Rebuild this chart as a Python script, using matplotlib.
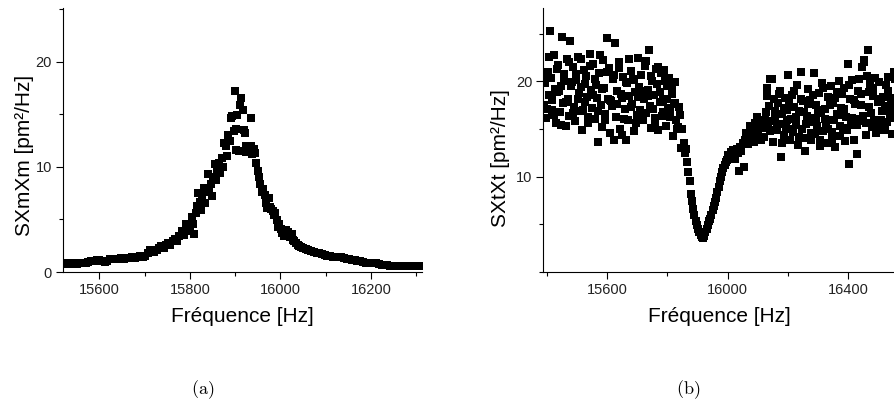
import numpy as np
import matplotlib
matplotlib.use('Agg')
from matplotlib import pyplot as plt
from matplotlib.ticker import MultipleLocator

plt.rcParams['font.family'] = ['Liberation Sans', 'DejaVu Sans']
plt.rcParams['mathtext.fontset'] = 'cm'

# (a) spectre Sxmxm
freq_a = [15522, 15528, 15534, 15540, 15546, 15552, 15558, 15564, 15570, 15576,
          15582, 15588, 15594, 15600, 15606, 15612, 15618, 15624, 15630, 15636,
          15642, 15648, 15654, 15660, 15666, 15672, 15678, 15684, 15690, 15696,
          15702, 15707, 15712, 15717, 15722, 15727, 15732, 15737, 15742, 15747,
          15752, 15757, 15762, 15767, 15772, 15777, 15782, 15787, 15792, 15797,
          15801, 15804, 15807, 15810, 15813, 15816, 15819, 15822, 15825, 15828,
          15831, 15834, 15837, 15840, 15843, 15846, 15849, 15852, 15855, 15858,
          15861, 15864, 15867, 15870, 15873, 15876, 15879, 15882, 15885, 15888,
          15891, 15894, 15897, 15899, 15901, 15903, 15905, 15908, 15911, 15914,
          15917, 15919, 15921, 15923, 15925, 15928, 15931, 15934, 15936, 15938,
          15941, 15944, 15947, 15950, 15953, 15956, 15959, 15962, 15965, 15968,
          15971, 15974, 15977, 15980, 15983, 15986, 15989, 15992, 15995, 15998,
          16001, 16004, 16007, 16010, 16013, 16016, 16019, 16022, 16025, 16028,
          16031, 16034, 16038, 16042, 16046, 16050, 16056, 16062, 16068, 16074,
          16080, 16086, 16092, 16098, 16104, 16110, 16116, 16122, 16128, 16134,
          16140, 16146, 16152, 16158, 16164, 16170, 16176, 16182, 16188, 16194,
          16200, 16206, 16212, 16218, 16224, 16230, 16236, 16242, 16248, 16254,
          16260, 16266, 16272, 16278, 16284, 16290, 16296, 16302, 16308]
s_xm = [0.80, 0.85, 0.78, 0.82, 0.75, 0.80, 0.86, 0.82, 0.90, 0.95,
        1.00, 1.08, 1.15, 1.10, 1.02, 0.95, 1.05, 1.25, 1.20, 1.28,
        1.22, 1.30, 1.25, 1.35, 1.30, 1.38, 1.35, 1.42, 1.48, 1.45,
        1.55, 1.85, 2.05, 1.95, 1.90, 2.10, 2.30, 2.45, 2.25, 2.60,
        2.75, 2.55, 2.90, 3.10, 2.95, 3.40, 3.90, 3.55, 4.60, 3.90,
        4.30, 5.20, 4.60, 3.60, 5.60, 6.30, 7.50, 6.70, 5.90, 7.20,
        8.00, 6.60, 7.60, 9.30, 7.90, 8.40, 7.20, 9.00, 10.3, 8.70,
        9.60, 10.4, 9.40, 10.8, 10.0, 12.3, 12.0, 11.0, 13.0, 12.5,
        14.6, 14.8, 13.4, 17.2, 11.6, 13.6, 14.9, 11.5, 15.9, 16.5,
        15.4, 13.5, 13.2, 12.0, 11.4, 11.8, 11.6, 12.0, 14.6, 11.2,
        11.7, 11.3, 10.4, 9.6, 9.0, 8.4, 7.6, 7.9, 7.3, 6.6,
        6.1, 7.0, 6.2, 6.0, 5.8, 5.4, 5.6, 4.9, 4.3, 4.6,
        4.1, 3.7, 3.4, 3.9, 4.0, 3.8, 3.6, 3.3, 3.6, 3.0,
        2.9, 2.8, 2.6, 2.5, 2.35, 2.3, 2.2, 2.1, 1.95, 1.9,
        1.85, 1.80, 1.70, 1.60, 1.55, 1.50, 1.45, 1.42, 1.40, 1.38,
        1.30, 1.25, 1.20, 1.15, 1.10, 1.05, 1.00, 0.95, 0.90, 0.88,
        0.85, 0.90, 0.82, 0.75, 0.70, 0.68, 0.65, 0.60, 0.58, 0.56,
        0.58, 0.55, 0.57, 0.55, 0.56, 0.54, 0.55, 0.56, 0.55]

# (b) spectre Sxtxt
freq_b = [15390, 15394, 15398, 15402, 15406, 15410, 15414, 15418, 15422, 15426,
          15430, 15434, 15438, 15442, 15446, 15450, 15454, 15458, 15462, 15466,
          15470, 15474, 15478, 15482, 15486, 15490, 15494, 15498, 15502, 15506,
          15510, 15514, 15518, 15522, 15526, 15530, 15534, 15538, 15542, 15546,
          15550, 15554, 15558, 15562, 15566, 15570, 15574, 15578, 15582, 15586,
          15590, 15594, 15598, 15602, 15606, 15610, 15614, 15618, 15622, 15626,
          15630, 15634, 15638, 15642, 15646, 15650, 15654, 15658, 15662, 15666,
          15670, 15674, 15678, 15682, 15686, 15690, 15694, 15698, 15702, 15706,
          15710, 15714, 15718, 15722, 15726, 15730, 15734, 15738, 15742, 15746,
          15750, 15754, 15758, 15762, 15766, 15770, 15774, 15778, 15782, 15786,
          15790, 15794, 15798, 15802, 15806, 15810, 15814, 15818, 15822, 15826,
          15830, 15834, 15838,
          15842, 15846, 15850, 15854, 15858, 15862, 15866, 15870, 15874, 15878,
          15882, 15886, 15890, 15894, 15898, 15902, 15906, 15910, 15914, 15918,
          15922, 15926, 15930, 15934, 15938, 15942, 15946, 15950, 15954, 15958,
          15962, 15966, 15970, 15974, 15978, 15982, 15986, 15990, 15994, 15998,
          16002, 16006, 16010, 16014, 16018, 16022, 16026, 16030, 16034, 16038,
          16042, 16046, 16050, 16054, 16058, 16062, 16066, 16070, 16074, 16078,
          16082, 16086, 16090, 16094, 16098, 16102, 16106, 16110, 16114, 16118,
          16122, 16126, 16130, 16134, 16138, 16142, 16146, 16150, 16154, 16158,
          16162, 16166, 16170, 16174, 16178, 16182, 16186, 16190, 16194, 16198,
          16202, 16206, 16210, 16214, 16218, 16222, 16226, 16230, 16234, 16238,
          16242, 16246, 16250, 16254, 16258, 16262, 16266, 16270, 16274, 16278,
          16282, 16286, 16290, 16294, 16298, 16302, 16306, 16310, 16314, 16318,
          16322, 16326, 16330, 16334, 16338, 16342, 16346, 16350, 16354, 16358,
          16362, 16366, 16370, 16374, 16378, 16382, 16386, 16390, 16394, 16398,
          16402, 16406, 16410, 16414, 16418, 16422, 16426, 16430, 16434, 16438,
          16442, 16446, 16450, 16454, 16458, 16462, 16466, 16470, 16474, 16478,
          16482, 16486, 16490, 16494, 16498, 16502, 16506, 16510, 16514, 16518,
          16522, 16526, 16530, 16534, 16538, 16542, 16546, 16550, 16554, 16558]
s_xt = [17.5, 19.8, 16.2, 21.0, 18.6, 25.3, 20.4, 17.0, 22.8, 19.2,
        15.6, 18.9, 21.7, 16.8, 19.5, 24.7, 17.7, 20.8, 15.3, 22.3,
        18.2, 16.4, 24.2, 19.9, 21.5, 17.3, 15.8, 20.1, 22.6, 18.8,
        16.9, 19.4, 14.9, 21.2, 17.8, 20.6, 18.4, 15.6, 22.9, 19.1,
        17.2, 21.8, 16.1, 19.6, 18.3, 13.6, 20.9, 17.5, 15.2, 22.2,
        19.3, 16.6, 24.5, 18.1, 21.4, 14.6, 17.9, 20.3, 13.8, 24.0,
        16.3, 19.0, 22.0, 15.0, 18.7, 14.4, 20.5, 17.1, 13.9, 19.8,
        16.0, 18.5, 21.1, 17.6, 20.2, 14.8, 18.9, 16.5, 22.5, 19.4,
        17.0, 20.7, 15.9, 18.2, 21.6, 16.7, 19.1, 23.3, 17.4, 15.1,
        20.0, 18.6, 16.2, 21.3, 19.7, 14.9, 17.8, 20.9, 16.4, 18.0,
        21.2, 15.3, 19.5, 17.2, 20.4, 16.8, 18.7, 14.3, 17.6, 19.9,
        16.0, 15.2, 17.3,
        16.5, 13.0, 15.0, 13.5, 12.5, 12.9, 11.5, 10.5, 9.5, 8.2,
        7.4, 6.6, 6.0, 5.4, 4.9, 4.5, 4.2, 3.9, 3.7, 3.6,
        3.8, 4.2, 4.5, 4.9, 5.3, 5.6, 6.0, 6.5, 6.9, 7.3,
        7.8, 8.4, 8.9, 9.5, 10.0, 10.5, 10.9, 11.2, 11.5, 11.8,
        12.3, 12.0, 12.6, 12.2, 12.8, 12.4, 11.9, 12.9, 12.5, 10.6,
        13.1, 12.7, 13.5, 11.0, 13.9, 14.6, 13.4, 14.2, 15.3, 14.0,
        14.8, 13.6, 15.6, 14.4, 16.3, 14.9, 15.1, 13.9, 15.7, 16.0,
        14.2, 16.8, 19.3, 15.1, 17.4, 20.2, 15.8, 13.6, 18.1, 16.3,
        14.9, 17.7, 15.5, 19.0, 12.1, 16.6, 14.4, 18.3, 15.2, 17.0,
        20.7, 13.9, 16.1, 18.6, 14.7, 17.3, 15.4, 19.6, 13.3, 16.9,
        21.0, 15.0, 17.9, 14.1, 12.7, 16.4, 19.2, 15.7, 18.0, 13.8,
        16.2, 20.9, 14.5, 17.5, 15.3, 18.8, 13.2, 16.7, 19.8, 14.8,
        17.1, 15.6, 13.5, 18.4, 16.0, 19.5, 14.0, 17.7, 15.9, 13.1,
        18.9, 16.5, 20.0, 14.3, 17.2, 15.1, 19.3, 13.7, 16.3, 21.8,
        11.3, 18.2, 15.4, 20.1, 13.9, 17.6, 16.1, 12.4, 19.0, 15.8,
        18.7, 21.5, 16.4, 22.2, 14.4, 20.6, 23.3, 17.3, 19.7, 15.2,
        18.5, 16.0, 20.4, 14.6, 17.8, 19.9, 15.5, 18.1, 16.9, 14.9,
        17.4, 19.6, 15.7, 20.5, 16.2, 18.3, 14.5, 17.0, 21.0, 16.6]

# (b) points supplementaires dans les zones bruitees
freq_b2 = [15392, 15400, 15408, 15416, 15424, 15432, 15440, 15448, 15456, 15464,
           15472, 15480, 15488, 15496, 15504, 15512, 15520, 15528, 15536, 15544,
           15552, 15560, 15568, 15576, 15584, 15592, 15600, 15608, 15616, 15624,
           15632, 15640, 15648, 15656, 15664, 15672, 15680, 15688, 15696, 15704,
           15712, 15720, 15728, 15736, 15744, 15752, 15760, 15768, 15776, 15784,
           15792, 15800, 15808, 15816, 15824, 15832,
           16124, 16132, 16140, 16148, 16156, 16164, 16172, 16180, 16188, 16196,
           16204, 16212, 16220, 16228, 16236, 16244, 16252, 16260, 16268, 16276,
           16284, 16292, 16300, 16308, 16316, 16324, 16332, 16340, 16348, 16356,
           16364, 16372, 16380, 16388, 16396, 16404, 16412, 16420, 16428, 16436,
           16444, 16452, 16460, 16468, 16476, 16484, 16492, 16500, 16508, 16516,
           16524, 16532, 16540, 16548, 16556]
s_xt2 = [20.3, 17.1, 22.6, 18.0, 16.5, 21.3, 19.0, 15.4, 20.0, 17.8,
         22.0, 19.5, 16.7, 20.8, 18.2, 22.4, 17.0, 19.7, 16.3, 21.6,
         18.6, 20.2, 16.9, 22.8, 19.2, 15.9, 21.0, 18.0, 17.4, 20.7,
         17.6, 21.4, 18.3, 16.1, 19.9, 22.4, 17.3, 20.1, 15.6, 18.4,
         19.0, 16.3, 22.1, 18.5, 20.6, 17.1, 15.5, 21.5, 18.9, 16.8,
         20.0, 18.2, 16.3, 19.4, 17.7, 15.0,
         16.0, 18.5, 14.8, 20.3, 16.9, 15.1, 18.7, 13.5, 17.2, 15.9,
         17.8, 15.0, 19.0, 16.3, 14.2, 18.1, 16.8, 15.5, 17.6, 14.6,
         18.6, 15.8, 17.0, 13.9, 19.3, 16.1, 15.0, 17.5, 14.7, 18.3,
         16.6, 15.3, 18.7, 17.1, 14.9, 19.6, 16.2, 18.0, 15.4, 20.3,
         17.5, 22.0, 15.6, 18.9, 16.7, 19.3, 14.8, 17.9, 16.0, 18.4,
         15.2, 19.0, 16.8, 17.7, 20.2]

W, H = 894, 403
fig = plt.figure(figsize=(W / 100, H / 100), dpi=100)

ax1 = fig.add_axes([63 / W, 1 - 272 / H, 358.7 / W, 264 / H])
ax2 = fig.add_axes([543.3 / W, 1 - 272 / H, 353 / W, 264 / H])


def style(ax):
    ax.spines['top'].set_visible(False)
    ax.spines['right'].set_visible(False)
    ax.tick_params(which='major', direction='out', length=5, width=0.8,
                   labelsize=10.5, pad=3, labelcolor='#222222')
    ax.tick_params(which='minor', direction='out', length=3, width=0.8)
    ax.set_xlabel('Fréquence [Hz]', fontsize=15, labelpad=7)


ax1.plot(freq_a, s_xm, 's', color='black', markersize=6.0, markeredgewidth=0)
ax1.set_xlim(15520, 16312)
ax1.set_ylim(0, 25.1)
ax1.xaxis.set_major_locator(MultipleLocator(200))
ax1.xaxis.set_minor_locator(MultipleLocator(100))
ax1.yaxis.set_major_locator(MultipleLocator(10))
ax1.yaxis.set_minor_locator(MultipleLocator(5))
style(ax1)
ax1.set_ylabel('SXmXm [pm²/Hz]', fontsize=15)
ax1.yaxis.set_label_coords(-0.081, 0.44)

ax2.plot(freq_b + freq_b2, s_xt + s_xt2, 's', color='black',
         markersize=5.7, markeredgewidth=0)
ax2.set_xlim(15388, 16560)
ax2.set_ylim(0, 27.7)
ax2.xaxis.set_major_locator(MultipleLocator(400))
ax2.xaxis.set_minor_locator(MultipleLocator(200))
ax2.yaxis.set_minor_locator(MultipleLocator(5))
ax2.set_yticks([10, 20])
style(ax2)
ax2.set_ylabel('SXtXt [pm²/Hz]', fontsize=15)
ax2.yaxis.set_label_coords(-0.094, 0.43)

fig.text(203 / W, 1 - 390 / H, r'$\mathrm{(a)}$', fontsize=13, ha='center', va='center')
fig.text(688 / W, 1 - 390 / H, r'$\mathrm{(b)}$', fontsize=13, ha='center', va='center')

fig.savefig('out.png', dpi=100)
